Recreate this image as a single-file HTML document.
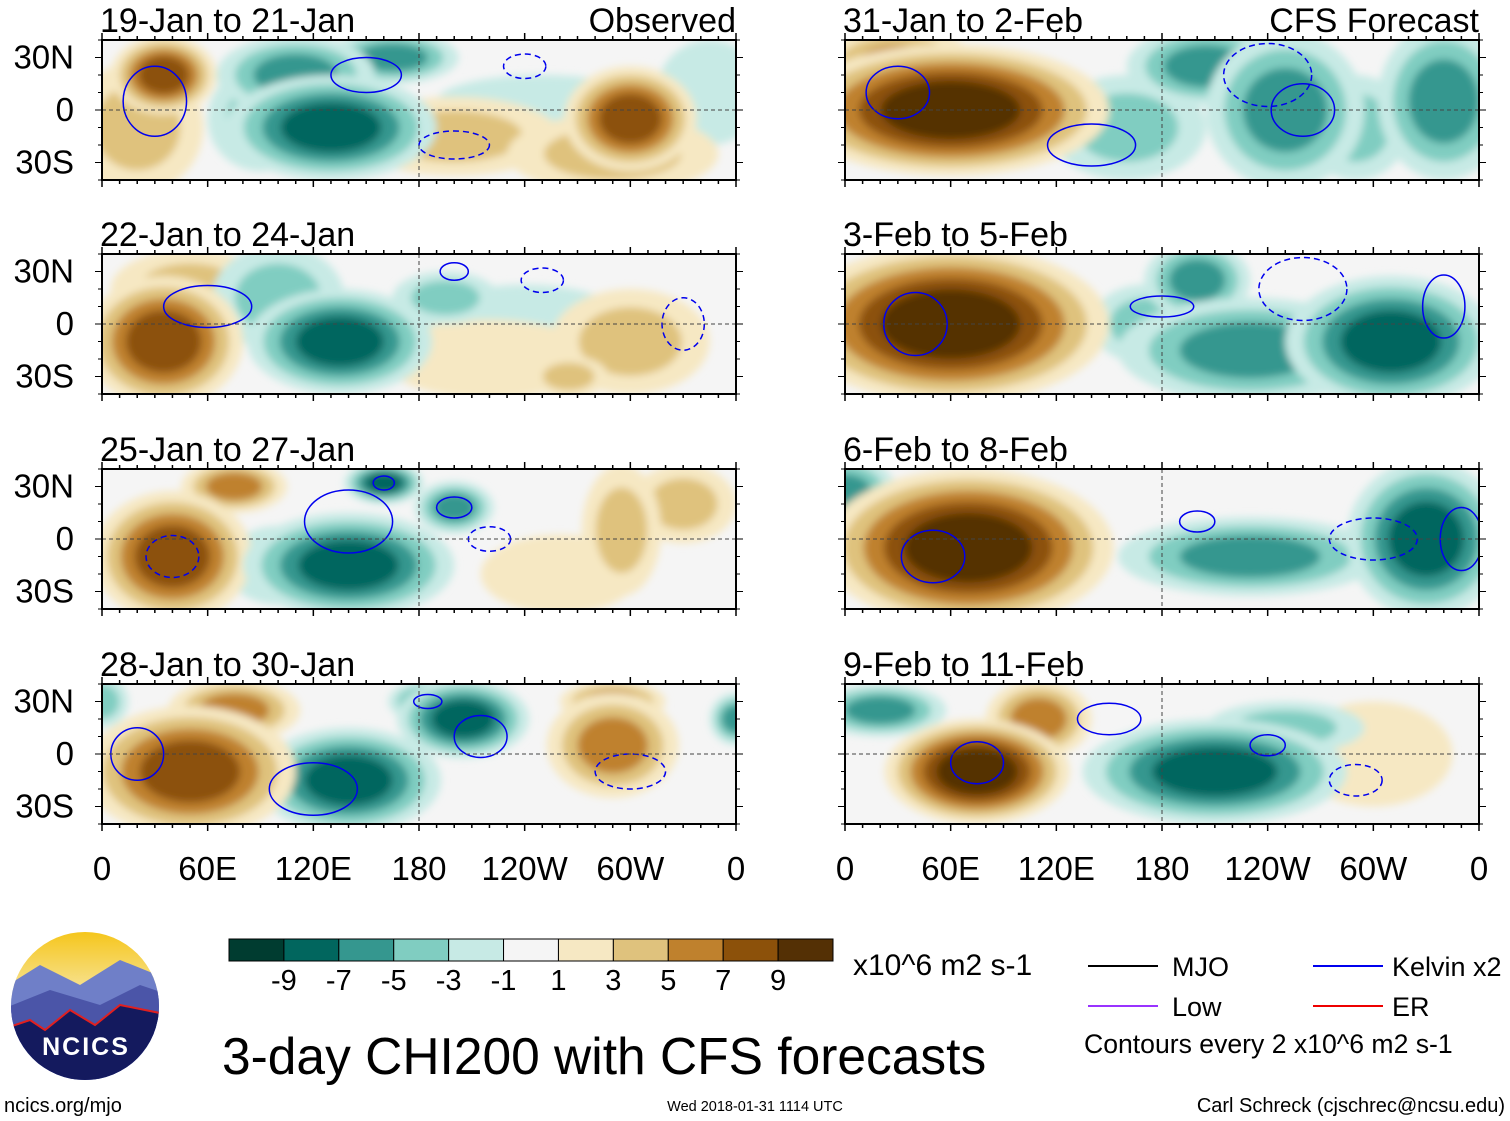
<!DOCTYPE html>
<html><head><meta charset="utf-8">
<style>
body{margin:0;background:#fff;width:1510px;height:1121px;overflow:hidden;font-family:"Liberation Sans",sans-serif;}
svg{position:absolute;left:0;top:0}
</style></head>
<body>
<svg id="fig" width="1510" height="1121" viewBox="0 0 1510 1121">
<defs>
<filter id="blur" x="-20%" y="-20%" width="140%" height="140%"><feGaussianBlur stdDeviation="4"/></filter>
<linearGradient id="sky" x1="0" y1="0" x2="0" y2="1"><stop offset="0" stop-color="#f5c518"/><stop offset="0.35" stop-color="#f7e08a"/><stop offset="0.5" stop-color="#7f8fd0"/></linearGradient>
</defs>
</svg>
<script>
// colour bins
const binColors = ["#003c30","#01665e","#35978f","#80cdc1","#c7eae5","#f5f5f5","#f6e8c3","#dfc27d","#bf812d","#8c510a","#543005"];
const tickLabels = ["-9","-7","-5","-3","-1","1","3","5","7","9"];
const lonTicks = ["0","60E","120E","180","120W","60W","0"];
const latTicks = ["30N","0","30S"];
const titles = ["19-Jan to 21-Jan","22-Jan to 24-Jan","25-Jan to 27-Jan","28-Jan to 30-Jan","31-Jan to 2-Feb","3-Feb to 5-Feb","6-Feb to 8-Feb","9-Feb to 11-Feb"];
// anomaly blobs: [lon, lat, value, radiusLon, radiusLat]
const p0 = [[35,20,7,20,15],[20,-10,4,25,25],[130,-10,-8,40,20],[110,20,-6,30,15],[165,30,-5,25,10],[90,-5,-4,20,20],[300,-5,7,25,20],[290,-25,4,40,15],[200,-15,3,40,15],[250,5,-2,40,10],[345,10,-2,20,20]];
const p1 = [[35,-10,8,30,25],[50,20,3,30,15],[135,-10,-7,35,20],[100,15,-4,25,20],[195,15,-4,20,10],[240,0,-2,40,15],[220,-20,2,40,15],[300,-10,3,30,20],[265,-30,4,15,8]];
const p2 = [[40,-10,7,30,25],[75,30,6,20,10],[140,-15,-8,40,20],[100,-15,-4,20,15],[160,32,-8,15,8],[200,18,-6,15,10],[295,5,4,15,25],[330,20,3,20,15],[260,-20,2,30,15]];
const p3 = [[50,-10,8,40,25],[75,25,5,25,12],[140,-15,-7,35,20],[205,20,-7,25,15],[185,30,-6,15,8],[290,5,6,25,20],[290,30,5,20,8],[360,20,-6,10,10],[0,30,-4,10,10]];
const p4 = [[60,0,9,60,25],[30,25,6,30,15],[205,25,-6,30,15],[250,0,-6,30,30],[340,5,-6,25,30],[160,-10,-3,30,20],[290,-10,-4,20,20]];
const p5 = [[60,0,10,60,30],[200,25,-5,20,15],[230,-15,-6,50,20],[310,-10,-8,40,25],[170,0,-3,20,15]];
const p6 = [[70,-5,10,55,30],[230,-10,-6,50,15],[330,0,-8,30,30],[0,25,-5,20,15]];
const p7 = [[75,-10,9,35,20],[110,20,6,20,15],[210,-10,-7,50,20],[20,25,-6,25,10],[300,0,2,30,20],[250,15,-3,30,10]];
const panelData = [p0,p1,p2,p3,p4,p5,p6,p7];
// contours: [lon, lat, radiusLon, radiusLat, dashed]
const c0 = [[30,5,18,20,0],[150,20,20,10,0],[240,25,12,7,1],[200,-20,20,8,1]];
const c1 = [[60,10,25,12,0],[200,30,8,5,0],[250,25,12,7,1],[330,0,12,15,1]];
const c2 = [[40,-10,15,12,1],[140,10,25,18,0],[160,32,6,4,0],[200,18,10,6,0],[220,0,12,7,1]];
const c3 = [[20,0,15,15,0],[185,30,8,4,0],[215,10,15,12,0],[120,-20,25,15,0],[300,-10,20,10,1]];
const c4 = [[30,10,18,15,0],[140,-20,25,12,0],[240,20,25,18,1],[260,0,18,15,0]];
const c5 = [[40,0,18,18,0],[180,10,18,6,0],[260,20,25,18,1],[340,10,12,18,0]];
const c6 = [[50,-10,18,15,0],[200,10,10,6,0],[300,0,25,12,1],[350,0,12,18,0]];
const c7 = [[75,-5,15,12,0],[150,20,18,9,0],[240,5,10,6,0],[290,-15,15,9,1]];
const contourData = [c0,c1,c2,c3,c4,c5,c6,c7];

const svg = document.getElementById('fig');
const NS = 'http://www.w3.org/2000/svg';
function mk(tag, attrs, parent){const e=document.createElementNS(NS,tag);for(const k in attrs)e.setAttribute(k,attrs[k]);(parent||svg).appendChild(e);return e;}
function col(v){ if(v>-1&&v<1) return binColors[5]; return binColors[Math.max(0,Math.min(10,Math.floor((v+11)/2)))]; }
const W=634,H=140;
const lefts=[102,845], tops=[40,254,469,684];
for(let p=0;p<8;p++){
  const x0=lefts[p<4?0:1], y0=tops[p%4];
  const xs=lon=>x0+lon/360*W, ys=lat=>y0+H/2-lat/40*(H/2);
  const g=mk('g',{});
  
  
  mk('clipPath',{id:'cp'+p},g); mk('rect',{x:x0,y:y0,width:W,height:H},g.lastChild);
  const inner=mk('g',{'clip-path':'url(#cp'+p+')'},g);
  mk('rect',{x:x0,y:y0,width:W,height:H,fill:'#f5f5f5'},inner);
  const bl=mk('g',{filter:'url(#blur)'},inner);
  const blobs=panelData[p].slice().sort((a,b)=>Math.abs(a[2])-Math.abs(b[2]));
  for(const b of blobs){
    const steps=Math.floor((Math.abs(b[2])+1)/2);
    for(let s=1;s<=steps;s++){
      const v=Math.sign(b[2])*(2*s);
      const f=1.5*(1-(s-1)/steps*0.7);
      const e=mk('ellipse',{cx:xs(b[0]),cy:ys(b[1]),rx:b[3]/360*W*f,ry:b[4]/40*H/2*f,fill:col(v)},bl);
      
      
    }
  }
  for(const c of contourData[p]){
    const e=mk('ellipse',{cx:xs(c[0]),cy:ys(c[1]),rx:c[2]/360*W,ry:c[3]/40*H/2,fill:'none',stroke:'#0000ee','stroke-width':1.5,'stroke-dasharray':c[4]?'6,4':'none'},inner);
    
    
  }
  mk('line',{x1:x0,x2:x0+W,y1:ys(0),y2:ys(0),stroke:'#444','stroke-dasharray':'4,3'},inner);
  mk('line',{x1:xs(180),x2:xs(180),y1:y0,y2:y0+H,stroke:'#444','stroke-dasharray':'4,3'},inner);
  mk('rect',{x:x0,y:y0,width:W,height:H,fill:'none',stroke:'#000','stroke-width':2},g);
  for(let k=0;k<=36;k++){const tx=x0+k*W/36,len=k%6==0?7:4;
    mk('line',{x1:tx,x2:tx,y1:y0,y2:y0-len,stroke:'#000','stroke-width':1.5},g);
    mk('line',{x1:tx,x2:tx,y1:y0+H,y2:y0+H+len,stroke:'#000','stroke-width':1.5},g);}
  for(let k=-4;k<=4;k++){const ty=ys(k*10),len=k%3==0?7:4;
    mk('line',{x1:x0,x2:x0-len,y1:ty,y2:ty,stroke:'#000'},g);
    mk('line',{x1:x0+W,x2:x0+W+len,y1:ty,y2:ty,stroke:'#000'},g);}
  const t=mk('text',{x:x0-2,y:y0-8,'font-size':34,fill:'#000'},g); t.textContent=titles[p];
   
  if(p==0||p==4){const r=mk('text',{x:x0+W,y:y0-8,'font-size':34,'text-anchor':'end'},g); r.textContent=p==0?'Observed':'CFS Forecast';
     }
  if(p<4){[30,0,-30].forEach((lat,i)=>{const l=mk('text',{x:74,y:ys(lat)+11,'font-size':33,'text-anchor':'end'},g);l.textContent=latTicks[i];
     });}
  if(p%4==3){lonTicks.forEach((s,i)=>{const l=mk('text',{x:xs(i*60),y:880,'font-size':33,'text-anchor':'middle'},g);l.textContent=s;
     });}
}
// colorbar
const cb=mk('g',{});
 
const cbx=229,cbw=604/11;
binColors.forEach((c,i)=>mk('rect',{x:cbx+i*cbw,y:939,width:cbw,height:22,fill:c,stroke:'#000','stroke-width':1},cb));
tickLabels.forEach((s,i)=>{const t=mk('text',{x:cbx+(i+1)*cbw,y:990,'font-size':29,'text-anchor':'middle'},cb);t.textContent=s;});
function txt(s,x,y,size,name,anchor){const t=mk('text',{x:x,y:y,'font-size':size,'text-anchor':anchor||'start'});t.textContent=s;
   return t;}
txt('x10^6 m2 s-1',853,975,30,'colorbar-units');
txt('3-day CHI200 with CFS forecasts',222,1074,51.5,'figure-title');
txt('ncics.org/mjo',4,1112,20,'source-url');
txt('Wed 2018-01-31 1114 UTC',755,1111,14.5,'timestamp','middle');
txt('Carl Schreck (cjschrec@ncsu.edu)',1505,1112,20,'author-credit','end');
// legend
const lg=[['MJO','#000',1088,966,1172],['Kelvin x2','#0000ee',1313,966,1392],['Low','#9933ff',1088,1006,1172],['ER','#ee0000',1313,1006,1392]];
lg.forEach(l=>{mk('line',{x1:l[2],x2:l[2]+70,y1:l[3],y2:l[3],stroke:l[1],'stroke-width':2});txt(l[0],l[4],l[3]+10,27,'legend-entry');});
txt('Contours every 2 x10^6 m2 s-1',1084,1053,26.6,'contour-note');
// logo
const lo=mk('g',{});
 
mk('clipPath',{id:'lc'},lo); mk('circle',{cx:85,cy:1006,r:74},lo.lastChild);
const li=mk('g',{'clip-path':'url(#lc)'},lo);
mk('rect',{x:0,y:930,width:170,height:160,fill:'url(#sky)'},li);
mk('path',{d:'M0 990 L40 965 L80 985 L120 960 L170 980 L170 1090 L0 1090Z',fill:'#6f7fc8'},li);
mk('path',{d:'M0 1010 L50 990 L100 1005 L140 985 L170 995 L170 1090 L0 1090Z',fill:'#4b55a8'},li);
mk('path',{d:'M0 1030 L30 1020 L45 1030 L70 1010 L95 1025 L120 1005 L170 1015 L170 1090 L0 1090Z',fill:'#141a5e',stroke:'#e02020','stroke-width':2},li);
const nt=mk('text',{x:86,y:1055,'font-size':25,'font-weight':'bold',fill:'#fff','text-anchor':'middle','letter-spacing':2},lo);nt.textContent='NCICS';
</script>
</body></html>
